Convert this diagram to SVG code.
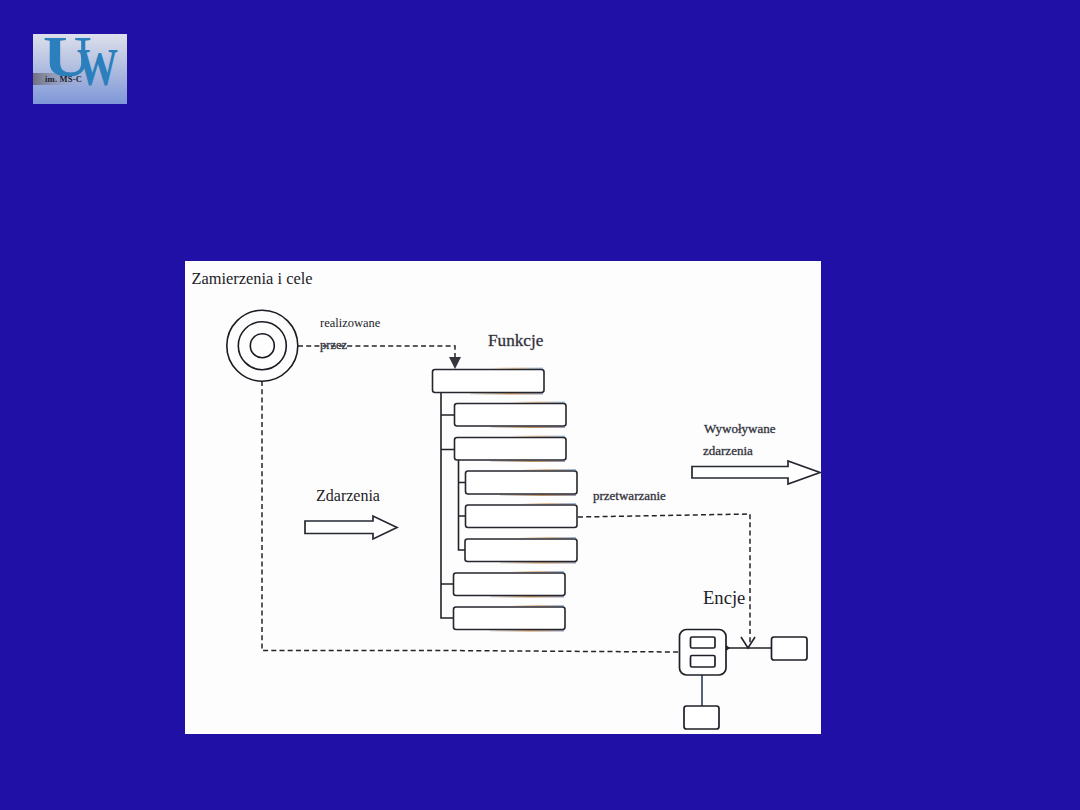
<svg xmlns="http://www.w3.org/2000/svg" width="1080" height="810" viewBox="0 0 1080 810">
  <style>
    text { font-family: "Liberation Serif", "Times New Roman", serif; fill: #1c1c28; }
    .box { fill: #fff; stroke: #26262e; stroke-width: 1.6; }
    .under { fill: url(#fringe); }
    .over { fill: url(#sky); }
    .solid { fill: none; stroke: #22222a; stroke-width: 1.6; }
    .dash { fill: none; stroke: #22242a; stroke-width: 1.5; stroke-dasharray: 5 3.2; }
    .ent { fill: #fff; stroke: #1e2028; stroke-width: 1.7; }
    .ring { fill: none; stroke: #1a1a22; stroke-width: 1.6; }
    .big { fill: #fff; stroke: #262832; stroke-width: 1.7; }
    .soft { fill: #30303a; stroke: #8a8a92; stroke-width: .5; paint-order: stroke; }
  </style>
  <defs>
    <linearGradient id="fringe" x1="0" y1="0" x2="1" y2="0">
      <stop offset="0" stop-color="#8a7a70" stop-opacity=".2"/>
      <stop offset=".55" stop-color="#c09060"/>
      <stop offset="1" stop-color="#9a9ab8"/>
    </linearGradient>
    <linearGradient id="sky" x1="0" y1="0" x2="1" y2="0">
      <stop offset="0" stop-color="#d09a60" stop-opacity="0"/>
      <stop offset=".5" stop-color="#d8a878"/>
      <stop offset="1" stop-color="#7aa8d8"/>
    </linearGradient>
    <linearGradient id="plate" x1="0" y1="0" x2="0" y2="1">
      <stop offset="0" stop-color="#dde0ec"/>
      <stop offset=".45" stop-color="#b4c0e0"/>
      <stop offset="1" stop-color="#7f97d8"/>
    </linearGradient>
    <linearGradient id="band" x1="0" y1="0" x2="1" y2="0">
      <stop offset="0" stop-color="#70707e"/>
      <stop offset="1" stop-color="#a8b2d4" stop-opacity="0"/>
    </linearGradient>
  </defs>

  <rect width="1080" height="810" fill="#2010a6"/>

  <g id="logo">
    <rect x="33" y="34" width="94" height="70" fill="url(#plate)"/>
    <rect x="33" y="73" width="52" height="12" fill="url(#band)"/>
    <text x="43" y="76" font-size="58" font-weight="bold" style="fill:#2a7fbc" textLength="49" lengthAdjust="spacingAndGlyphs">U</text>
    <text x="77" y="85" font-size="53" font-weight="bold" style="fill:#2a7fbc" textLength="41" lengthAdjust="spacingAndGlyphs">W</text>
    <text x="45" y="82" font-size="8.500" font-weight="bold" style="fill:#20242c" textLength="37">im. MS-C</text>
  </g>

  <rect id="sheet" x="185" y="261" width="636" height="473" fill="#fdfdfd"/>

  <g id="connectors">
    <path class="solid" d="M441 392V618H453.5M441 449.500H454.500M441 415H454.500M441 584H453.500"/>
    <path class="solid" d="M458.500 460V550H465M458.500 482.500H465.500M458.500 516H465.500"/>
    <path class="dash" d="M298 346H455V358"/>
    <path d="M449 357H461L455 369Z" fill="#35353c"/>
    <path class="dash" d="M262 381V650.500H440L679 652"/>
    <path class="dash" d="M578 517L750 514V644"/>
    <path class="solid" d="M741 637L748 648L755 637" stroke-width="1"/>
    <path class="solid" d="M726 648H772"/>
    <path d="M726 645L730 648L726 651Z" fill="#22242c"/>
    <path d="M698 667H706L702 671Z" fill="#22242c"/>
    <path class="solid" d="M702 667V706" style="stroke:#2c3c5c"/>
  </g>

  <g id="goal">
    <circle class="ring" cx="262.300" cy="345.700" r="35.500"/>
    <circle class="ring" cx="262.300" cy="345.700" r="24"/>
    <circle class="ring" cx="262.300" cy="345.700" r="12"/>
  </g>

  <g id="fn-root">
    <rect class="under" x="470" y="393" width="73" height="1.500"/>
    <rect class="over" x="490" y="367.700" width="53" height="1"/>
    <rect class="box" x="432.500" y="369.500" width="111.500" height="23" rx="2.500"/>
  </g>
  <g id="fn-a">
    <rect class="under" x="490" y="426.500" width="75" height="1.500"/>
    <rect class="over" x="510" y="401.700" width="55" height="1"/>
    <rect class="box" x="454.500" y="403.500" width="111.500" height="22.500" rx="2.500"/>
  </g>
  <g id="fn-b">
    <rect class="under" x="490" y="460.500" width="75" height="1.500"/>
    <rect class="over" x="510" y="435.700" width="55" height="1"/>
    <rect class="box" x="454.500" y="437.500" width="111.500" height="22.500" rx="2.500"/>
  </g>
  <g id="fn-b1">
    <rect class="under" x="500" y="494.500" width="76" height="1.500"/>
    <rect class="over" x="520" y="469.200" width="56" height="1"/>
    <rect class="box" x="465.500" y="471" width="111.500" height="23" rx="2.500"/>
  </g>
  <g id="fn-b2">
    <rect class="over" x="520" y="503.200" width="56" height="1"/>
    <rect class="box" x="465.500" y="505" width="111.500" height="22.500" rx="2.500"/>
  </g>
  <g id="fn-b3">
    <rect class="under" x="500" y="562" width="76" height="1.500"/>
    <rect class="over" x="520" y="537.200" width="56" height="1"/>
    <rect class="box" x="465" y="539" width="112" height="22.500" rx="2.500"/>
  </g>
  <g id="fn-c">
    <rect class="under" x="490" y="596" width="74" height="1.500"/>
    <rect class="over" x="510" y="571.200" width="54" height="1"/>
    <rect class="box" x="453.500" y="573" width="111.500" height="22.500" rx="2.500"/>
  </g>
  <g id="fn-d">
    <rect class="under" x="490" y="630" width="74" height="1.500"/>
    <rect class="over" x="510" y="605.200" width="54" height="1"/>
    <rect class="box" x="453.500" y="607" width="111.500" height="22.500" rx="2.500"/>
  </g>

  <g id="events-in">
    <path class="big" d="M305 521H373V516L397 527.500L373 539V533.500H305Z"/>
  </g>
  <g id="events-out">
    <path class="big" d="M692 466.500H788V461L820 472.500L788 484V478H692Z"/>
  </g>

  <g id="entity">
    <rect class="ent" x="679.500" y="629.500" width="46.500" height="45.500" rx="7"/>
    <rect class="ent" x="690.500" y="637" width="24.500" height="11" rx="1.500"/>
    <rect class="ent" x="690.500" y="655.500" width="24.500" height="11.500" rx="1.500"/>
  </g>
  <g id="entity-right">
    <rect class="ent" x="771.500" y="637" width="35.500" height="23" rx="2.500"/>
  </g>
  <g id="entity-below">
    <rect class="ent" x="684" y="706" width="35" height="23" rx="2.500"/>
  </g>

  <g id="labels">
    <text x="191.500" y="284" font-size="16.400">Zamierzenia i cele</text>
    <text x="320" y="327" font-size="12.500">realizowane</text>
    <text x="320" y="349" font-size="12.500" class="soft">przez</text>
    <text x="488" y="346" font-size="17.200" class="soft">Funkcje</text>
    <text x="316" y="501" font-size="16">Zdarzenia</text>
    <text x="704" y="433" font-size="13" class="soft">Wywoływane</text>
    <text x="703" y="455" font-size="13" class="soft">zdarzenia</text>
    <text x="593" y="500" font-size="13" class="soft">przetwarzanie</text>
    <text x="703" y="604" font-size="18.600">Encje</text>
  </g>
</svg>
